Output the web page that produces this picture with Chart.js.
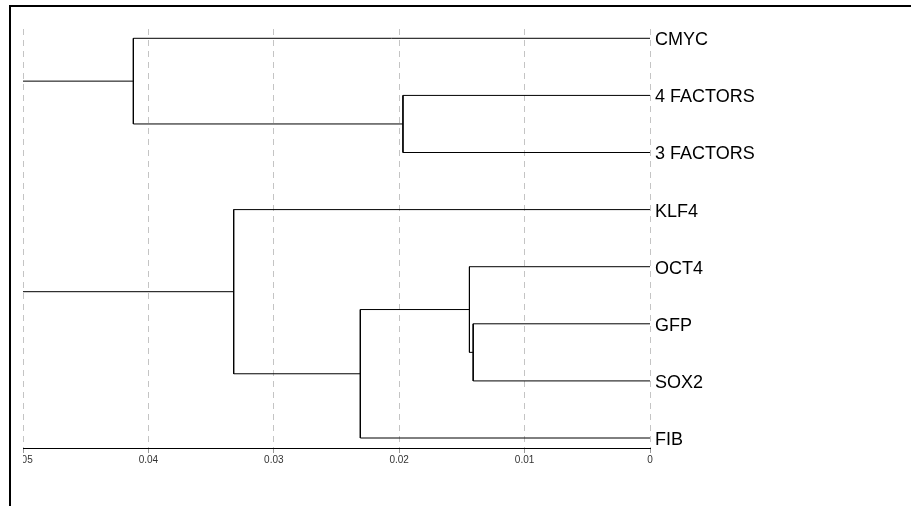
<!DOCTYPE html>
<html><head><meta charset="utf-8">
<script src="https://cdn.jsdelivr.net/npm/chart.js@4.4.0/dist/chart.umd.min.js"></script>
<style>
html,body{margin:0;padding:0;background:#fff;width:911px;height:506px;overflow:hidden}
#frame{position:absolute;left:9px;top:5px;width:1000px;height:600px;border-left:2.5px solid #000;border-top:2.5px solid #000}
#wrap{position:absolute;left:0;top:0;width:911px;height:506px}
</style></head><body>
<div id="frame"></div>
<div id="wrap"><canvas id="c" width="911" height="506"></canvas></div>
<script>
// Leaves (top to bottom)
const leaves = ['CMYC', '4 FACTORS', '3 FACTORS', 'KLF4', 'OCT4', 'GFP', 'SOX2', 'FIB'];
// Merges: index < 8 = leaf, index >= 8 = earlier merge (index - 8)
const mergeLeft   = [5, 4, 1, 9, 3, 0, 13];
const mergeRight  = [6, 8, 2, 7, 11, 10, 12];
const mergeHeight = [0.0141, 0.0144, 0.0197, 0.0231, 0.0332, 0.0412, 0.055];
// Axis ticks
const xTickValues = [0.05, 0.04, 0.03, 0.02, 0.01, 0];
const xTickLabels = ['0.05', '0.04', '0.03', '0.02', '0.01', '0'];

const FAMILY = "'Liberation Sans', Arial, sans-serif";

// Node positions from the tree structure
const nodes = leaves.map((_, i) => ({x: 0, y: i}));
const datasets = [];
mergeHeight.forEach((h, k) => {
  const a = nodes[mergeLeft[k]], b = nodes[mergeRight[k]];
  nodes.push({x: h, y: (a.y + b.y) / 2});
  datasets.push({
    data: [{x: a.x, y: a.y}, {x: h, y: a.y}, {x: h, y: b.y}, {x: b.x, y: b.y}],
    showLine: true, borderColor: '#000', borderWidth: 1,
    pointRadius: 0, pointHoverRadius: 0, tension: 0, fill: false
  });
});

const clipLabels = {
  id: 'clipLabels',
  afterLayout(chart) {
    const s = chart.scales.x;
    if (!s || s._patchedClip) return;
    const orig = s.drawLabels.bind(s);
    s.drawLabels = function (area) {
      const ctx = chart.ctx;
      ctx.save();
      ctx.beginPath();
      ctx.rect(chart.chartArea.left, 0, chart.width, chart.height);
      ctx.clip();
      orig(area);
      ctx.restore();
    };
    s._patchedClip = true;
  }
};

new Chart(document.getElementById('c'), {
  type: 'scatter',
  data: {datasets},
  plugins: [clipLabels],
  options: {
    responsive: false, animation: false, devicePixelRatio: 1, events: [],
    layout: {padding: {left: 23, top: 29, right: 0, bottom: 0}},
    plugins: {legend: {display: false}, tooltip: {enabled: false}, title: {display: false}},
    scales: {
      x: {
        type: 'linear', position: 'bottom', reverse: true, min: 0, max: 0.05,
        afterBuildTicks: s => { s.ticks = xTickValues.map(v => ({value: v})); },
        afterFit: s => { s.height = 58; },
        grid: {color: '#c4c4c4', lineWidth: 1, drawTicks: true, tickLength: 5, tickColor: '#999', tickWidth: 1},
        border: {display: true, color: '#000', width: 1, dash: [6, 5]},
        ticks: {padding: 1, color: '#333', font: {size: 10, family: FAMILY}, maxRotation: 0, autoSkip: false,
                callback: (v, i) => xTickLabels[i]}
      },
      y: {
        type: 'linear', position: 'right', reverse: true, min: -0.163, max: 7.175,
        afterBuildTicks: s => { s.ticks = leaves.map((_, i) => ({value: i})); },
        afterFit: s => { s.width = 261; },
        grid: {display: false, drawTicks: false},
        border: {display: false},
        ticks: {padding: 5, labelOffset: 2, color: '#000', font: {size: 18, family: FAMILY}, autoSkip: false,
                callback: (v, i) => leaves[i]}
      }
    }
  }
});
</script>
</body></html>
